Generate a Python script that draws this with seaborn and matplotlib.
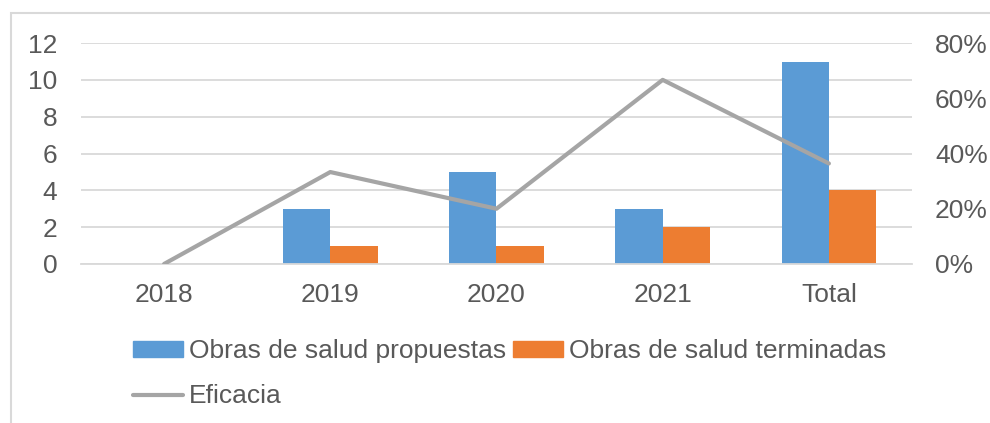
import matplotlib
matplotlib.use("Agg")
from matplotlib import pyplot as plt
from matplotlib.patches import Rectangle, Patch
from matplotlib.lines import Line2D
from matplotlib.ticker import FuncFormatter
import seaborn as sns
import pandas as pd

years = ["2018", "2019", "2020", "2021", "Total"]
propuestas = [0, 3, 5, 3, 11]
terminadas = [0, 1, 1, 2, 4]
eficacia = [0.0, 0.333, 0.20, 0.667, 0.364]

blue = "#5B9BD5"
orange = "#ED7D31"
gray = "#A5A5A5"
text_col = "#595959"
grid_col = "#D9D9D9"
fs = 19

sns.set_theme(style="white")
plt.rcParams["font.family"] = ["Liberation Sans", "DejaVu Sans"]

bars = pd.DataFrame({
    "year": years * 2,
    "obras": propuestas + terminadas,
    "serie": ["Obras de salud propuestas"] * 5 + ["Obras de salud terminadas"] * 5,
})
line = pd.DataFrame({"pos": range(len(years)), "eficacia": eficacia})

fig = plt.figure(figsize=(9.9, 4.23), dpi=100)
ax = fig.add_axes([0.0818, 0.376, 0.8394, 0.522])

sns.barplot(data=bars, x="year", y="obras", hue="serie", order=years,
            palette=[blue, orange], width=0.57, saturation=1, linewidth=0,
            ax=ax, legend=False)
ax.set_ylim(0, 12)
ax.set_yticks(range(0, 13, 2))
ax.set_xlabel("")
ax.set_ylabel("")
ax.yaxis.grid(True, color=grid_col, linewidth=1.3)
ax.set_axisbelow(True)
for s in ["top", "right", "left"]:
    ax.spines[s].set_visible(False)
ax.spines["bottom"].set_color(grid_col)
ax.spines["bottom"].set_linewidth(1.3)
ax.tick_params(axis="both", length=0, labelsize=fs, labelcolor=text_col)
ax.tick_params(axis="x", pad=14)
ax.tick_params(axis="y", pad=17)

ax2 = ax.twinx()
sns.lineplot(data=line, x="pos", y="eficacia", color=gray, linewidth=3,
             ax=ax2, legend=False)
ax2.lines[0].set_solid_capstyle("round")
ax2.set_ylim(0, 0.8)
ax2.set_yticks([0, 0.2, 0.4, 0.6, 0.8])
ax2.yaxis.set_major_formatter(FuncFormatter(lambda v, p: f"{v * 100:.0f}%"))
ax2.set_ylabel("")
ax2.set_xlabel("")
for s in ax2.spines.values():
    s.set_visible(False)
ax2.tick_params(axis="y", length=0, labelsize=fs, labelcolor=text_col, pad=16.5)
ax.set_xlim(-0.5, 4.5)

handles = [
    Patch(color=blue, label="Obras de salud propuestas"),
    Line2D([], [], color=gray, linewidth=3, solid_capstyle="round", label="Eficacia"),
    Patch(color=orange, label="Obras de salud terminadas"),
]
fig.legend(handles=handles, ncol=2, loc="upper left",
           bbox_to_anchor=(0.134, 0.198), frameon=False, fontsize=fs,
           labelcolor=text_col, handlelength=1.9, handleheight=0.53,
           handletextpad=0.23, columnspacing=0.27, labelspacing=0.8,
           borderpad=0, borderaxespad=0)

fig.patches.append(Rectangle((0.011, -0.1), 1.2, 0.1 + 0.969, transform=fig.transFigure,
                             fill=False, edgecolor=grid_col, linewidth=1.5))

fig.savefig("out.png", dpi=100)
